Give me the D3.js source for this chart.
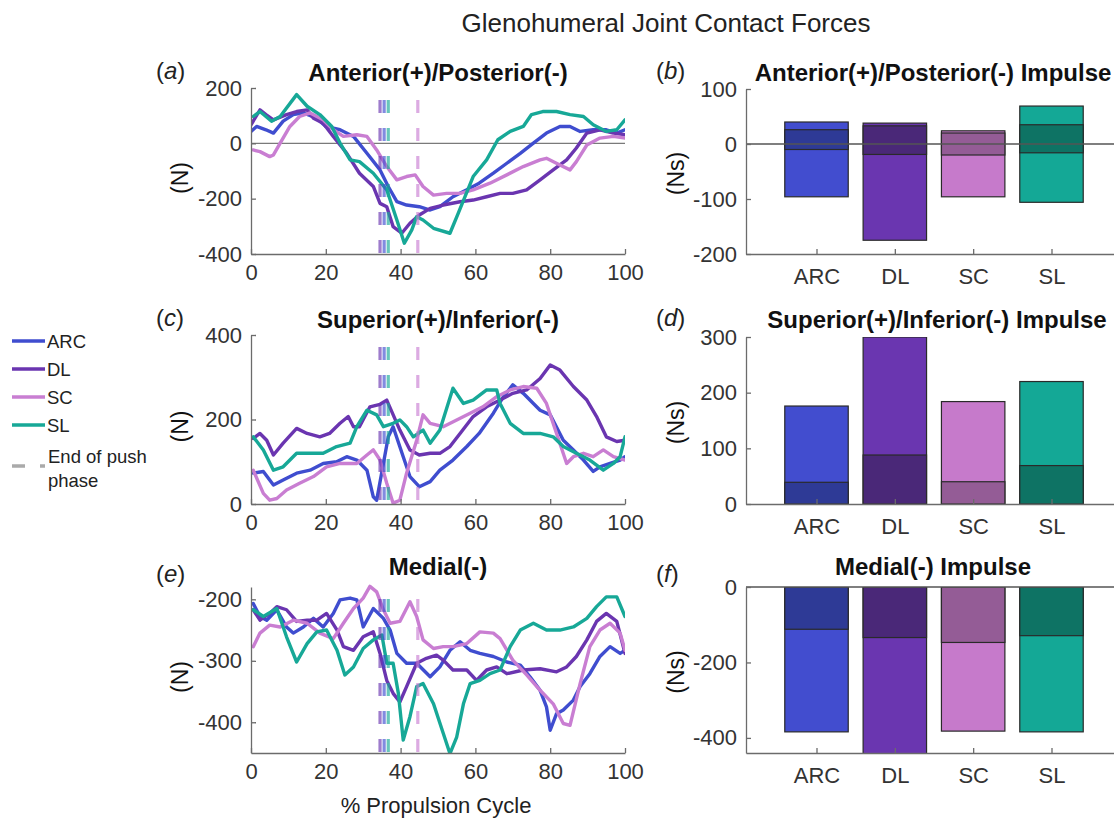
<!DOCTYPE html>
<html>
<head>
<meta charset="utf-8">
<script src="https://cdn.jsdelivr.net/npm/d3@7"></script>
<style>
  html, body { margin: 0; padding: 0; background: #fff; }
  svg { display: block; font-family: "Liberation Sans", Arial, Helvetica, sans-serif; }
</style>
</head>
<body>
<svg id="chart" width="1114" height="821"></svg>
<script>
// ---- groups ----
const groups = ["ARC", "DL", "SC", "SL"];
const lineColors = ["#3f4dcf", "#6a35b0", "#c97ed2", "#17a897"];
const barLight = ["#424dcf", "#6a36b0", "#c67acb", "#14a896"];
const barDark = ["#2e3a96", "#4a2878", "#945c96", "#0e7364"];
// end of push phase (% of propulsion cycle), per group
const pushEnd = [35.6, 34.5, 44.6, 36.7];

// ---- (a) anterior(+)/posterior(-) force, N ----
const apARC = [[0,43],[1.5,61],[4,49],[6,37],[8.6,80],[11.3,104],[14,110],[17.6,91],[20,61],[23.8,49],[27.4,25],[31,-36],[34.5,-96],[36.7,-156],[39,-211],[41.6,-223],[45,-229],[47.9,-241],[50.5,-229],[54,-193],[57.7,-168],[61,-144],[64.8,-108],[68.4,-72],[72,-36],[75.5,1],[79,37],[82.6,61],[85.3,61],[88,43],[91.5,49],[95,49],[97.8,37],[100,49]];
const apDL = [[0,67],[2.4,121],[4,104],[6,85],[9.5,104],[12.2,115],[15,121],[16.7,91],[19.3,73],[22,25],[25.6,-36],[29,-108],[32.7,-156],[34.5,-217],[36.3,-229],[38,-301],[40.3,-325],[42.5,-289],[45,-259],[47.9,-235],[51.4,-223],[55.9,-211],[59.4,-205],[63,-193],[66.6,-181],[70,-181],[73.7,-168],[77.3,-132],[80.8,-96],[84.4,-60],[87,-17],[89.8,37],[93.3,49],[96.9,37],[100,31]];
const apSC = [[0.6,-24],[2.4,-30],[5,-48],[6,-42],[7.8,1],[10.4,61],[13,97],[15.8,110],[19.3,85],[22,49],[24.7,25],[28.3,31],[31,25],[33.6,-24],[36.3,-84],[39,-132],[41.6,-120],[43.9,-114],[46,-156],[48.8,-187],[52.3,-181],[55.9,-181],[59.4,-168],[63.9,-144],[68.4,-114],[72.8,-84],[77.3,-60],[79,-54],[82.6,-78],[85.3,-96],[87,-66],[89.8,-6],[93.3,19],[96.9,25],[100,19]];
const apSL = [[0.6,97],[2.4,115],[5.5,80],[7.8,97],[12.2,176],[15,134],[18.4,104],[21.6,61],[23.8,1],[26.5,-60],[29,-66],[32.7,-108],[36.3,-168],[39,-277],[41,-361],[43,-313],[44.3,-265],[46,-277],[48.8,-307],[53.2,-325],[55.4,-253],[59.4,-120],[63,-60],[66,13],[69.3,43],[72.8,61],[75,104],[78,115],[81.7,115],[85.3,104],[88.9,97],[91.5,67],[95,43],[97.8,49],[100,85]];

// ---- (c) superior(+)/inferior(-) force, N ----
const siARC = [[0.6,73],[3.3,77],[6,45],[8.6,57],[12.2,73],[15.8,80],[19.3,96],[22.9,100],[25.6,112],[28.3,104],[31,80],[32.7,17],[33.6,9],[35.4,96],[36.7,159],[38,183],[40.7,112],[42.5,65],[45,41],[47.9,53],[50.5,80],[54,104],[57.7,136],[61,167],[64.8,215],[67.5,254],[70,282],[72.8,262],[75.5,238],[77.3,222],[80,211],[83.5,151],[86.2,128],[88.9,104],[91.5,77],[93.3,88],[96,96],[98.7,104],[100,112]];
const siDL = [[0.6,155],[2.4,167],[4.2,151],[6,116],[8.6,144],[12.2,179],[15,167],[18.4,159],[21,167],[23.8,191],[26,207],[27.4,183],[29,183],[31.8,230],[34.5,236],[36.3,246],[39.8,175],[42.5,128],[45,116],[47.9,120],[50.5,120],[53.2,136],[55.9,167],[59.4,207],[63,230],[66.6,246],[70,262],[73.7,270],[77.3,297],[80,329],[82.6,317],[86.2,278],[89.8,246],[92.4,207],[95,159],[97.8,148],[100,151]];
const siSC = [[0.6,80],[3.3,25],[5,9],[6.9,13],[9.5,33],[13,49],[16.7,65],[20.2,88],[23.8,96],[28.3,96],[31,116],[32.7,128],[34.5,104],[36.3,49],[38,2],[39.8,9],[41.6,73],[44.3,151],[46,211],[47.9,191],[51.4,183],[55,199],[58.6,215],[62,230],[65.7,254],[69.3,270],[72.8,278],[76.4,274],[79,238],[81.7,167],[84.4,96],[86.2,112],[88.9,120],[91.5,112],[94.2,128],[96.9,112],[100,104]];
const siSL = [[0.6,159],[3.3,128],[6,80],[8.6,88],[12.2,120],[15.8,120],[19.3,120],[22.9,136],[26.5,144],[28.3,183],[31,222],[33.6,211],[35.4,183],[38,191],[39.8,199],[41.6,183],[43.4,159],[46,175],[47.9,144],[50.5,175],[54,274],[56.8,238],[59.4,246],[63,270],[65.7,270],[66.6,238],[69.3,191],[72.8,167],[77.3,167],[80.8,159],[83.5,136],[87,120],[90.6,104],[94.2,80],[96.9,96],[98.7,112],[100,159]];

// ---- (e) medial(-) force, N ----
const mARC = [[0.6,-207],[2.4,-228],[4.2,-234],[6.9,-217],[9.5,-245],[11.3,-255],[14,-245],[16.7,-231],[19.3,-245],[22,-223],[23.8,-201],[26.5,-198],[28.3,-201],[30,-245],[32.7,-215],[35.4,-231],[37.2,-250],[39,-288],[41.6,-304],[44.3,-304],[47.9,-326],[50.5,-310],[53.2,-283],[55.9,-269],[58.6,-283],[61.2,-288],[64.8,-293],[68.4,-302],[72,-307],[74.6,-326],[77.3,-348],[79,-375],[80,-413],[81.7,-386],[83.5,-380],[86.2,-364],[88,-342],[90.6,-321],[93.3,-293],[96,-277],[98.7,-288],[100,-283]];
const mDL = [[0.6,-217],[2.4,-234],[5,-223],[6.9,-212],[9.5,-217],[12.2,-236],[15,-234],[17.6,-234],[20.2,-223],[23,-250],[24.7,-277],[27.4,-283],[30,-261],[32.7,-253],[34.5,-288],[36.3,-332],[38,-353],[39.8,-367],[41.6,-342],[44.3,-304],[46.9,-296],[49.6,-291],[51.4,-299],[54,-315],[57.7,-315],[60.3,-332],[63,-315],[65.7,-310],[68.4,-321],[72.8,-315],[77.3,-313],[81.7,-318],[84.4,-310],[87,-293],[89.8,-266],[92.4,-236],[95,-223],[97.8,-236],[100,-288]];
const mSC = [[0.6,-277],[2.4,-255],[5,-242],[7.8,-245],[11.3,-234],[15,-239],[18.4,-255],[22,-264],[24.7,-239],[27.4,-215],[30,-198],[31.8,-179],[33.6,-188],[35.4,-217],[37.2,-239],[39.8,-236],[42.5,-204],[44.3,-228],[46,-266],[48.8,-280],[51.4,-277],[54,-277],[57.7,-272],[61.2,-253],[64.8,-255],[66.6,-264],[70,-299],[73.7,-323],[77.3,-348],[80.8,-370],[83.5,-402],[85.3,-405],[88,-337],[90.6,-277],[93.3,-250],[96,-239],[98.7,-255],[100,-283]];
const mSL = [[0.6,-217],[3.3,-228],[6.9,-215],[9.5,-261],[12.2,-302],[15,-272],[17.6,-253],[20.2,-250],[23,-283],[25.1,-323],[27.4,-310],[30,-280],[32.7,-266],[35,-258],[36.3,-304],[38,-304],[39.4,-353],[40.7,-429],[42.5,-391],[44.3,-342],[46,-337],[48.8,-370],[51.4,-418],[53.2,-451],[55,-424],[56.8,-370],[58.6,-337],[61.2,-332],[63.9,-321],[66.6,-315],[69.3,-277],[72,-250],[75.5,-239],[79,-250],[82.6,-250],[86.2,-245],[89.8,-231],[92.4,-212],[95,-196],[97.8,-196],[100,-228]];

// ---- impulse bars, Ns: [low, high] for whole cycle and push phase ----
const apCycle = [[-96,40],[-175,38],[-96,24],[-106,69]];
const apPush  = [[-10,26],[-19,33],[-20,20],[-16,35]];
const siCycle = [[0,176],[0,300],[0,184],[0,220]];
const siPush  = [[0,39],[0,88],[0,40],[0,69]];
const mCycle  = [[-384,0],[-470,0],[-382,0],[-384,0]];
const mPush   = [[-112,0],[-134,0],[-147,0],[-129,0]];

const lineTicksX = [0, 20, 40, 60, 80, 100];

const svg = d3.select("#chart");
svg.append("rect").attr("width", 1114).attr("height", 821).attr("fill", "#fff");

const AXIS = "#6b6b6b";
const TXT = "#333";
const TICKFONT = 22;
const plainNum = d => String(d);   // hyphen-minus for negative ticks

function styleAxis(g) {
  g.select(".domain").attr("stroke", AXIS).attr("stroke-width", 1.3);
  g.selectAll(".tick line").attr("stroke", AXIS).attr("stroke-width", 1.3);
  g.selectAll(".tick text").attr("fill", TXT).attr("font-size", TICKFONT)
    .attr("font-family", "Liberation Sans, Arial, sans-serif");
}

function panelTitle(x, y, text) {
  svg.append("text").attr("x", x).attr("y", y).attr("text-anchor", "middle")
    .attr("font-size", 24).attr("font-weight", "bold").attr("fill", "#111").text(text);
}
function panelTag(x, y, letter) {
  const t = svg.append("text").attr("x", x).attr("y", y).attr("font-size", 24).attr("fill", "#222");
  t.append("tspan").text("(");
  t.append("tspan").attr("font-style", "italic").text(letter);
  t.append("tspan").text(")");
}
function yLabel(x, y, text) {
  svg.append("text").attr("transform", `translate(${x},${y}) rotate(-90)`)
    .attr("text-anchor", "middle").attr("font-size", 23).attr("fill", "#111").text(text);
}

// ---- line panels ----
const lineX = d3.scaleLinear().domain([0, 100]).range([251, 625]);

function linePanel(cfg) {
  const y = d3.scaleLinear().domain(cfg.ylim).range([cfg.bottom, cfg.top]);
  const g = svg.append("g");
  const clipId = "clip-" + cfg.id;
  svg.append("clipPath").attr("id", clipId).append("rect")
    .attr("x", 251).attr("y", cfg.top - 4).attr("width", 374).attr("height", cfg.bottom - cfg.top + 4);

  if (cfg.zero) {
    g.append("line").attr("x1", 251).attr("x2", 625).attr("y1", y(0)).attr("y2", y(0))
      .attr("stroke", "#7a7a7a").attr("stroke-width", 1.3);
  }

  const line = d3.line().x(d => lineX(d[0])).y(d => y(d[1]));
  const plot = g.append("g").attr("clip-path", `url(#${clipId})`);
  cfg.series.forEach((s, i) => {
    plot.append("path").datum(s).attr("d", line).attr("fill", "none")
      .attr("stroke", lineColors[i]).attr("stroke-width", 3.4)
      .attr("stroke-linejoin", "round").attr("stroke-linecap", "round");
  });

  // end of push phase markers
  [1, 0, 3, 2].forEach(i => {
    g.append("line").attr("x1", lineX(pushEnd[i])).attr("x2", lineX(pushEnd[i]))
      .attr("y1", cfg.top).attr("y2", cfg.bottom)
      .attr("stroke", lineColors[i]).attr("stroke-opacity", 0.65).attr("stroke-width", 3.2)
      .attr("stroke-dasharray", "13,15").attr("stroke-dashoffset", -12);
  });

  const ax = g.append("g").attr("transform", `translate(0,${cfg.bottom})`)
    .call(d3.axisBottom(lineX).tickValues(lineTicksX).tickFormat(plainNum)
      .tickSizeInner(-5).tickSizeOuter(0).tickPadding(10));
  styleAxis(ax);
  const ay = g.append("g").attr("transform", "translate(251,0)")
    .call(d3.axisLeft(y).tickValues(cfg.yticks).tickFormat(plainNum)
      .tickSizeInner(-5).tickSizeOuter(0).tickPadding(9));
  styleAxis(ay);

  yLabel(188, (cfg.top + cfg.bottom) / 2 + 7, "(N)");
}

linePanel({ id: "a", top: 88, bottom: 254, ylim: [-400, 200], yticks: [-400, -200, 0, 200], zero: true,
  series: [apARC, apDL, apSC, apSL] });
linePanel({ id: "c", top: 335, bottom: 504, ylim: [0, 400], yticks: [0, 200, 400],
  series: [siARC, siDL, siSC, siSL] });
linePanel({ id: "e", top: 587, bottom: 753, ylim: [-450, -180], yticks: [-400, -300, -200],
  series: [mARC, mDL, mSC, mSL] });

// ---- impulse bar panels ----
const barX = d3.scaleLinear().domain([0.1, 4.9]).range([746, 1122]);
const barW = 0.81;

function barPanel(cfg) {
  const y = d3.scaleLinear().domain(cfg.ylim).range([cfg.bottom, cfg.top]);
  const g = svg.append("g");
  const clipId = "clip-" + cfg.id;
  svg.append("clipPath").attr("id", clipId).append("rect")
    .attr("x", 746).attr("y", cfg.top).attr("width", 400).attr("height", cfg.bottom - cfg.top);
  const plot = g.append("g").attr("clip-path", `url(#${clipId})`);

  [[cfg.cycle, barLight], [cfg.push, barDark]].forEach(([vals, cols]) => {
    plot.selectAll(null).data(vals).join("rect")
      .attr("x", (d, i) => barX(i + 1 - barW / 2))
      .attr("width", barX(barW) - barX(0))
      .attr("y", d => y(d[1]))
      .attr("height", d => y(d[0]) - y(d[1]))
      .attr("fill", (d, i) => cols[i])
      .attr("stroke", "#2a2a2a").attr("stroke-width", 1.2);
  });

  if (cfg.zero) {
    g.append("line").attr("x1", 746).attr("x2", 1114).attr("y1", y(0)).attr("y2", y(0))
      .attr("stroke", "#555").attr("stroke-width", 1.3);
  }

  const ax = g.append("g").attr("transform", `translate(0,${cfg.bottom})`)
    .call(d3.axisBottom(barX).tickValues([1, 2, 3, 4]).tickFormat(v => groups[v - 1])
      .tickSizeInner(-5).tickSizeOuter(0).tickPadding(14));
  styleAxis(ax);
  const ay = g.append("g").attr("transform", "translate(746,0)")
    .call(d3.axisLeft(y).tickValues(cfg.yticks).tickFormat(plainNum)
      .tickSizeInner(-5).tickSizeOuter(0).tickPadding(9));
  styleAxis(ay);

  yLabel(684, (cfg.top + cfg.bottom) / 2 + 2, "(Ns)");
}

barPanel({ id: "b", top: 89, bottom: 254, ylim: [-200, 100], yticks: [-200, -100, 0, 100], zero: true,
  cycle: apCycle, push: apPush });
barPanel({ id: "d", top: 337, bottom: 504, ylim: [0, 300], yticks: [0, 100, 200, 300],
  cycle: siCycle, push: siPush });
barPanel({ id: "f", top: 587, bottom: 753, ylim: [-440, 0], yticks: [-400, -200, 0], zero: true,
  cycle: mCycle, push: mPush });

// ---- titles and tags ----
svg.append("text").attr("x", 666).attr("y", 32).attr("text-anchor", "middle")
  .attr("font-size", 26).attr("fill", "#222").text("Glenohumeral Joint Contact Forces");

panelTitle(438, 81, "Anterior(+)/Posterior(-)");
panelTitle(933, 81, "Anterior(+)/Posterior(-) Impulse");
panelTitle(438, 328, "Superior(+)/Inferior(-)");
panelTitle(937, 328, "Superior(+)/Inferior(-) Impulse");
panelTitle(438, 575, "Medial(-)");
panelTitle(933, 575, "Medial(-) Impulse");

panelTag(156, 79, "a");
panelTag(656, 79, "b");
panelTag(156, 326, "c");
panelTag(656, 326, "d");
panelTag(156, 582, "e");
panelTag(656, 582, "f");

svg.append("text").attr("x", 436).attr("y", 813).attr("text-anchor", "middle")
  .attr("font-size", 22).attr("fill", "#222").text("% Propulsion Cycle");

// ---- legend ----
const legend = svg.append("g");
groups.forEach((name, i) => {
  const yy = 341 + i * 28;
  legend.append("line").attr("x1", 12).attr("x2", 45).attr("y1", yy).attr("y2", yy)
    .attr("stroke", lineColors[i]).attr("stroke-width", 3.5);
  legend.append("text").attr("x", 47).attr("y", yy + 7).attr("font-size", 18.5).attr("fill", "#222").text(name);
});
legend.append("line").attr("x1", 12).attr("x2", 45).attr("y1", 466).attr("y2", 466)
  .attr("stroke", "#aaa").attr("stroke-width", 3.5).attr("stroke-dasharray", "13,15");
legend.append("text").attr("x", 48).attr("y", 463).attr("font-size", 18.5).attr("fill", "#222").text("End of push");
legend.append("text").attr("x", 48).attr("y", 487).attr("font-size", 18.5).attr("fill", "#222").text("phase");
</script>
</body>
</html>
